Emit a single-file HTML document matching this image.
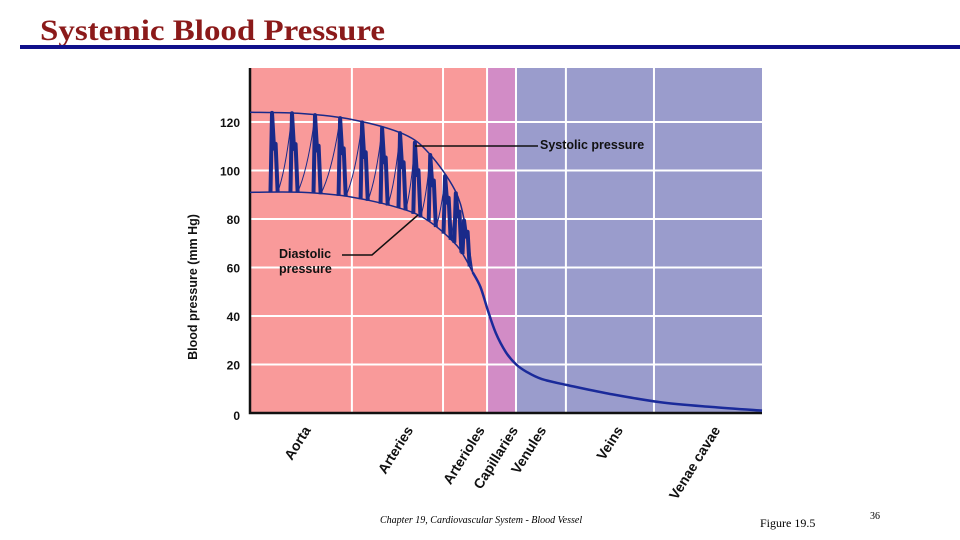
<!DOCTYPE html>
<html><head><meta charset="utf-8"><style>
html,body{margin:0;padding:0;background:#fff;width:960px;height:540px;overflow:hidden}
</style></head><body>
<svg width="960" height="540" xmlns="http://www.w3.org/2000/svg">
<text x="40" y="40" font-family="Liberation Serif, serif" font-weight="bold" font-size="30" textLength="345" lengthAdjust="spacingAndGlyphs" fill="#8b1a1a">Systemic Blood Pressure</text>
<rect x="20" y="45" width="940" height="4" fill="#10108a"/>
<g id="chart"></g>
<text x="380" y="523" font-family="Liberation Serif, serif" font-style="italic" font-size="10" fill="#000">Chapter 19, Cardiovascular System - Blood Vessel</text>
<text x="760" y="527" font-family="Liberation Serif, serif" font-size="12" fill="#000">Figure 19.5</text>
<text x="870" y="519" font-family="Liberation Serif, serif" font-size="10" fill="#000">36</text>
</svg>
<script>
const yTicks=[0,20,40,60,80,100,120];
const regionNames=['Aorta','Arteries','Arterioles','Capillaries','Venules','Veins','Venae cavae'];
const regionBounds=[0,46.3,46.3,51.95,51.95,100];
const gridX=[19.9,37.7,46.3,51.95,61.7,78.9];
const labelX=[10,30,44,50.5,56,71,90];
const envX=[0,10,20,30,35,40,42,43.5];
const sysVals=[124,123.5,121,115,107,92,78,58];
const diaVals=[91,91,89,84,79,70,64,58];
const meanX=[43.5,45,46.5,48,50,52,54,57,62,70,80,90,100];
const meanVals=[58,52,42,33,25,20,17,14,11.5,8,4.5,2.5,1];
const peaks=[4.3,8.2,12.7,17.6,21.9,25.8,29.3,32.2,35.2,38.1,40.2,41.8];
const NS='http://www.w3.org/2000/svg';
const L=250,R=762,T=68,B=413;
const xs=u=>L+u*(R-L)/100;
const ys=v=>B-v*2.425;
function interp(X,V,u){if(u<=X[0])return V[0];for(let i=1;i<X.length;i++){if(u<=X[i]){const t=(u-X[i-1])/(X[i]-X[i-1]);return V[i-1]+t*(V[i]-V[i-1]);}}return V[V.length-1];}
function smooth(X,V){const P=X.map((x,i)=>[xs(x),ys(V[i])]);let d=`M${P[0][0]},${P[0][1]}`;for(let i=0;i<P.length-1;i++){const p0=P[Math.max(0,i-1)],p1=P[i],p2=P[i+1],p3=P[Math.min(P.length-1,i+2)];const c1=[p1[0]+(p2[0]-p0[0])/6,p1[1]+(p2[1]-p0[1])/6],c2=[p2[0]-(p3[0]-p1[0])/6,p2[1]-(p3[1]-p1[1])/6];d+=`C${c1[0].toFixed(1)},${c1[1].toFixed(1)} ${c2[0].toFixed(1)},${c2[1].toFixed(1)} ${p2[0].toFixed(1)},${p2[1].toFixed(1)}`;}return d;}
const g=document.getElementById('chart');
function mk(tag,at,parent){const e=document.createElementNS(NS,tag);for(const k in at)e.setAttribute(k,at[k]);(parent||g).appendChild(e);return e;}
const cols=['#f99a9a','#d28cc6','#9a9ccc'];
for(let i=0;i<3;i++){const r=mk('rect',{x:xs(regionBounds[i*2]),y:T,width:xs(regionBounds[i*2+1])-xs(regionBounds[i*2]),height:B-T,fill:cols[i]});

}
yTicks.slice(1).forEach(v=>{const l=mk('line',{x1:L,x2:R,y1:ys(v),y2:ys(v),stroke:'#fff','stroke-width':2});


const t=mk('text',{x:240,y:ys(v)+5,'text-anchor':'end','font-family':'Liberation Sans, sans-serif','font-size':12,'font-weight':'bold',fill:'#111'});t.textContent=v;

});
const t0=mk('text',{x:240,y:B+7,'text-anchor':'end','font-family':'Liberation Sans, sans-serif','font-size':12,'font-weight':'bold',fill:'#111'});t0.textContent=yTicks[0];


gridX.forEach((u,i)=>{const l=mk('line',{x1:xs(u),x2:xs(u),y1:T,y2:B,stroke:'#fff','stroke-width':2});

});
const ax=mk('path',{d:`M${L},${T} V${B} H${R}`,fill:'none',stroke:'#111','stroke-width':2.5});


const yl=mk('text',{transform:`translate(197,287) rotate(-90)`,'text-anchor':'middle','font-family':'Liberation Sans, sans-serif','font-size':12.5,'font-weight':'bold',fill:'#111'});yl.textContent='Blood pressure (mm Hg)';


regionNames.forEach((n,i)=>{const t=mk('text',{transform:`translate(${xs(labelX[i])+10},${430}) rotate(-58)`,'text-anchor':'end','font-family':'Liberation Sans, sans-serif','font-size':14,'font-weight':'bold',fill:'#111'});t.textContent=n;

});
const s=mk('path',{d:smooth(envX,sysVals),fill:'none',stroke:'#1a2a8a','stroke-width':1.5});


const dl=mk('path',{d:smooth(envX,diaVals),fill:'none',stroke:'#1a2a8a','stroke-width':1.5});


const m=mk('path',{d:smooth(meanX,meanVals),fill:'none',stroke:'#1a2a9a','stroke-width':2.5});


const S=u=>interp(envX,sysVals,u),D=u=>interp(envX,diaVals,u);
peaks.forEach((u,i)=>{const sy=S(u),dy=D(u);const mid=dy+0.55*(sy-dy);
const d=`M${xs(u-0.3)},${ys(D(u-0.3))} L${xs(u)},${ys(sy)} L${xs(u+0.4)},${ys(mid)} L${xs(u+0.7)},${ys(mid+2)} L${xs(u+1.1)},${ys(D(u+1.1))}`;
const p=mk('path',{d,fill:'none',stroke:'#1a2a8a','stroke-width':4,'stroke-linejoin':'round'});


const nx=i<peaks.length-1?peaks[i+1]:43.5;const ny=i<peaks.length-1?S(nx):58;
const a=u+1.1;const q=mk('path',{d:`M${xs(a)},${ys(D(a))} Q${xs(a+(nx-a)*0.6)},${ys(D(a)+0.3*(ny-D(a)))} ${xs(nx)},${ys(ny)}`,fill:'none',stroke:'#1a2a8a','stroke-width':1});

});
const sl=mk('path',{d:'M415,146 H538',stroke:'#111','stroke-width':1.5,fill:'none'});


const st=mk('text',{x:540,y:149,'font-family':'Liberation Sans, sans-serif','font-size':12.5,'font-weight':'bold',fill:'#111'});st.textContent='Systolic pressure';


const dlead=mk('path',{d:'M418,215 L372,255 H342',stroke:'#111','stroke-width':1.5,fill:'none'});


const dt=mk('text',{x:279,y:258,'font-family':'Liberation Sans, sans-serif','font-size':12.5,'font-weight':'bold',fill:'#111'});dt.innerHTML='<tspan x="279">Diastolic</tspan><tspan x="279" dy="15">pressure</tspan>';


</script>
</body></html>
